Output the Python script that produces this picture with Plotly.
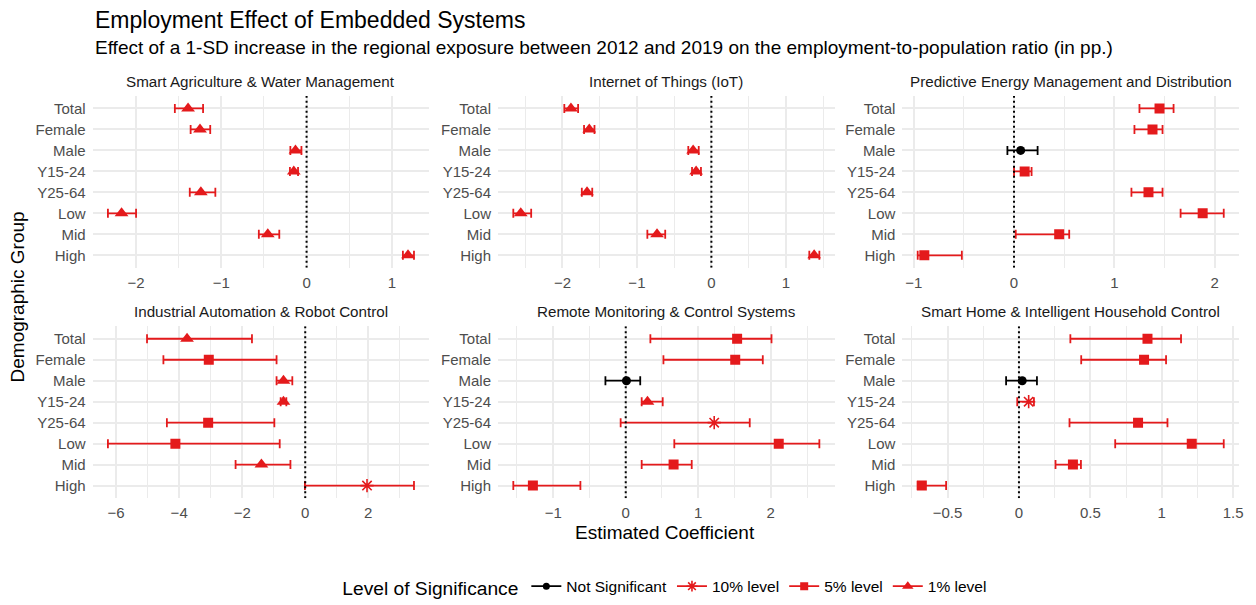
import plotly.graph_objects as go

# Demographic groups, listed top to bottom
groups = ["Total", "Female", "Male", "Y15-24", "Y25-64", "Low", "Mid", "High"]

# Panel titles (technology fields)
fields = [
    "Smart Agriculture & Water Management",
    "Internet of Things (IoT)",
    "Predictive Energy Management and Distribution",
    "Industrial Automation & Robot Control",
    "Remote Monitoring & Control Systems",
    "Smart Home & Intelligent Household Control",
]

# Point estimates, confidence bounds and significance per field (same order as groups)
agri_est = [-1.39, -1.25, -0.13, -0.15, -1.24, -2.17, -0.455, 1.19]
agri_lo = [-1.545, -1.36, -0.19, -0.195, -1.37, -2.33, -0.56, 1.13]
agri_hi = [-1.214, -1.13, -0.06, -0.10, -1.07, -2.00, -0.32, 1.26]
agri_sig = ["1", "1", "1", "1", "1", "1", "1", "1"]

iot_est = [-1.886, -1.64, -0.245, -0.205, -1.67, -2.56, -0.73, 1.38]
iot_lo = [-1.975, -1.71, -0.31, -0.26, -1.74, -2.66, -0.86, 1.315]
iot_hi = [-1.79, -1.57, -0.17, -0.14, -1.60, -2.42, -0.62, 1.45]
iot_sig = ["1", "1", "1", "1", "1", "1", "1", "1"]

energy_est = [1.45, 1.38, 0.066, 0.106, 1.34, 1.88, 0.45, -0.894]
energy_lo = [1.25, 1.20, -0.066, 0.0, 1.17, 1.66, 0.017, -0.96]
energy_hi = [1.59, 1.48, 0.235, 0.175, 1.48, 2.09, 0.55, -0.52]
energy_sig = ["5", "5", "ns", "5", "5", "5", "5", "5"]

robot_est = [-3.75, -3.06, -0.69, -0.69, -3.08, -4.12, -1.39, 1.96]
robot_lo = [-5.02, -4.50, -0.91, -0.78, -4.39, -6.26, -2.21, -0.01]
robot_hi = [-1.69, -0.91, -0.41, -0.60, -0.98, -0.81, -0.47, 3.45]
robot_sig = ["1", "5", "1", "1", "5", "5", "1", "10"]

remote_est = [1.536, 1.51, 0.01, 0.30, 1.22, 2.11, 0.66, -1.28]
remote_lo = [0.34, 0.52, -0.28, 0.22, -0.07, 0.67, 0.22, -1.55]
remote_hi = [2.01, 1.89, 0.20, 0.51, 1.71, 2.67, 0.91, -0.625]
remote_sig = ["5", "5", "ns", "1", "10", "5", "5", "5"]

home_est = [0.90, 0.876, 0.023, 0.068, 0.834, 1.21, 0.378, -0.68]
home_lo = [0.36, 0.436, -0.09, -0.012, 0.354, 0.674, 0.256, -0.709]
home_hi = [1.135, 1.03, 0.126, 0.105, 1.04, 1.434, 0.434, -0.51]
home_sig = ["5", "5", "ns", "10", "5", "5", "5", "5"]

# Legend labels for the significance codes
sig_levels = ["ns", "10", "5", "1"]
sig_labels = ["Not Significant", "10% level", "5% level", "1% level"]

panels = [
    (agri_est, agri_lo, agri_hi, agri_sig),
    (iot_est, iot_lo, iot_hi, iot_sig),
    (energy_est, energy_lo, energy_hi, energy_sig),
    (robot_est, robot_lo, robot_hi, robot_sig),
    (remote_est, remote_lo, remote_hi, remote_sig),
    (home_est, home_lo, home_hi, home_sig),
]
tick_steps = [1, 1, 1, 2, 1, 0.5]

# --- styling -------------------------------------------------------------
W, H = 1256, 605
FONT = "Liberation Sans, Arial, sans-serif"
RED = "#E41A1C"
style = {
    "ns": dict(color="black", symbol="circle", size=9, lw=0),
    "10": dict(color=RED, symbol="asterisk-open", size=11, lw=1.6),
    "5": dict(color=RED, symbol="square", size=10, lw=0),
    "1": dict(color=RED, symbol="triangle-up", size=12, lw=0),
}
GRID = "#EBEBEB"

col_px = [(93, 431), (500, 838), (906, 1244)]
row_px = [(97, 271), (330, 504)]


def px_x(p):
    return p / W


def px_y(p):
    return 1 - p / H


fig = go.Figure()
layout = {}

for k, (est, lo, hi, sig) in enumerate(panels):
    r, c = divmod(k, 3)
    n = k + 1
    xa = "x" if n == 1 else f"x{n}"
    ya = "y" if n == 1 else f"y{n}"

    lo_all, hi_all = min(lo), max(hi)
    pad = 0.05 * (hi_all - lo_all)
    step = tick_steps[k]

    # dotted reference line at zero, drawn under the points
    fig.add_trace(go.Scatter(
        x=[0, 0], y=[0, 1], xaxis=xa, yaxis=f"y{n + 6}",
        mode="lines", showlegend=False, hoverinfo="skip",
        line=dict(color="black", width=2, dash="2px,3px"),
    ))

    for lev in sig_levels:
        idx = [i for i, s in enumerate(sig) if s == lev]
        if not idx:
            continue
        st = style[lev]
        fig.add_trace(go.Scatter(
            x=[est[i] for i in idx],
            y=[groups[i] for i in idx],
            mode="markers",
            xaxis=xa, yaxis=ya,
            showlegend=False,
            marker=dict(symbol=st["symbol"], size=st["size"], color=st["color"],
                        line=dict(color=st["color"], width=st["lw"])),
            error_x=dict(type="data", symmetric=False,
                         array=[hi[i] - est[i] for i in idx],
                         arrayminus=[est[i] - lo[i] for i in idx],
                         color=st["color"], thickness=1.8, width=4.5),
            hoverinfo="x+y",
        ))

    ydom = [px_y(row_px[r][1]), px_y(row_px[r][0])]
    layout[f"xaxis{'' if n == 1 else n}"] = dict(
        domain=[px_x(col_px[c][0]), px_x(col_px[c][1])],
        anchor=ya,
        range=[lo_all - pad, hi_all + pad],
        tick0=0, dtick=step,
        showgrid=True, gridcolor=GRID, gridwidth=1.6,
        minor=dict(tick0=0, dtick=step / 2, showgrid=True, gridcolor=GRID, gridwidth=1),
        zeroline=False, showline=False, ticks="",
        tickfont=dict(family=FONT, size=15, color="#4D4D4D"),
        ticklabelstandoff=4,
    )
    layout[f"yaxis{'' if n == 1 else n}"] = dict(
        domain=ydom,
        anchor=xa,
        type="category",
        categoryorder="array",
        categoryarray=groups[::-1],
        range=[-0.6, len(groups) - 0.4],
        showgrid=True, gridcolor=GRID, gridwidth=1.6,
        zeroline=False, showline=False, ticks="",
        tickfont=dict(family=FONT, size=15, color="#4D4D4D"),
        ticklabelstandoff=6,
    )
    # hidden helper axis spanning the panel height for the zero line
    layout[f"yaxis{n + 6}"] = dict(
        domain=ydom, anchor=xa, overlaying=ya, range=[0, 1],
        visible=False, fixedrange=True,
    )

    # panel title
    fig.add_annotation(x=px_x((col_px[c][0] + col_px[c][1]) / 2),
                       y=px_y(row_px[r][0] - 15), xref="paper", yref="paper",
                       text=fields[k], showarrow=False, xanchor="center", yanchor="middle",
                       font=dict(family=FONT, size=15.2, color="#1A1A1A"))

# legend-only entries (point + line keys)
for lev, lab in zip(sig_levels, sig_labels):
    st = style[lev]
    fig.add_trace(go.Scatter(
        x=[None], y=[None], mode="lines+markers", name=lab,
        line=dict(color=st["color"], width=1.8),
        marker=dict(symbol=st["symbol"], size=st["size"] - 2, color=st["color"],
                    line=dict(color=st["color"], width=st["lw"])),
    ))

fig.add_annotation(x=px_x(93), y=px_y(20), xref="paper", yref="paper",
                   text="Employment Effect of Embedded Systems", showarrow=False,
                   xanchor="left", yanchor="middle",
                   font=dict(family=FONT, size=23, color="black"))
fig.add_annotation(x=px_x(93), y=px_y(48), xref="paper", yref="paper",
                   text="Effect of a 1-SD increase in the regional exposure between 2012 and 2019 "
                        "on the employment-to-population ratio (in pp.)",
                   showarrow=False, xanchor="left", yanchor="middle",
                   font=dict(family=FONT, size=19, color="black"))
fig.add_annotation(x=px_x(668), y=px_y(539), xref="paper", yref="paper",
                   text="Estimated Coefficient", showarrow=False,
                   xanchor="center", yanchor="middle",
                   font=dict(family=FONT, size=19, color="black"))
fig.add_annotation(x=px_x(18), y=px_y(300), xref="paper", yref="paper",
                   text="Demographic Group", showarrow=False, textangle=-90,
                   xanchor="center", yanchor="middle",
                   font=dict(family=FONT, size=19, color="black"))

fig.update_layout(
    width=W, height=H,
    margin=dict(l=0, r=0, t=0, b=0),
    paper_bgcolor="white", plot_bgcolor="white",
    font=dict(family=FONT),
    showlegend=True,
    legend=dict(
        orientation="h", x=px_x(669), y=px_y(594), xanchor="center", yanchor="middle",
        title=dict(text="Level of Significance", font=dict(family=FONT, size=19.2, color="black")),
        font=dict(family=FONT, size=15.5, color="black"),
        itemwidth=30,
    ),
    **layout,
)

fig.write_html("out.html")
